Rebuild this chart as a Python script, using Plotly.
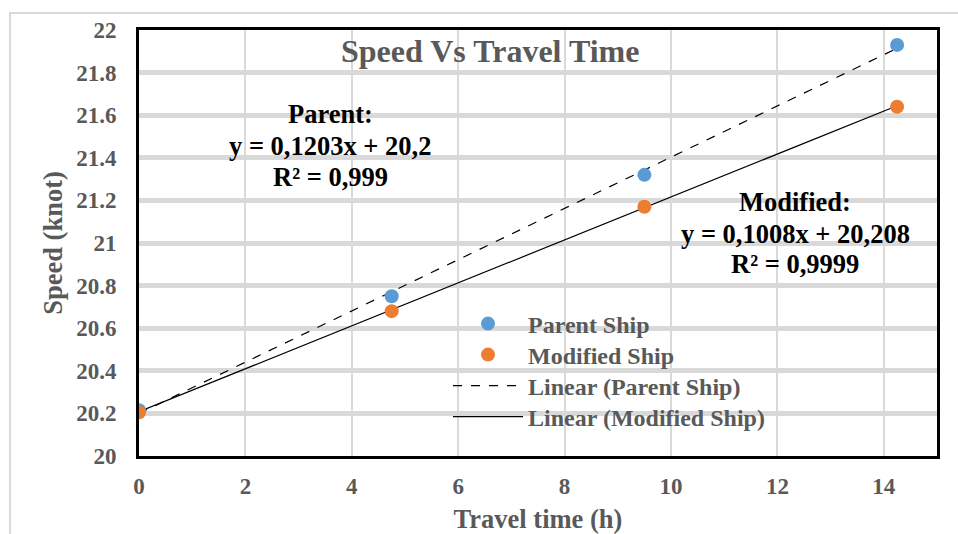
import plotly.graph_objects as go

# Data
travel_time = [0, 4.75, 9.5, 14.25]
parent_speed = [20.215, 20.75, 21.32, 21.93]
modified_speed = [20.205, 20.68, 21.17, 21.64]
parent_fit = (0.1203, 20.2)
modified_fit = (0.1008, 20.208)
x_ticks = [0, 2, 4, 6, 8, 10, 12, 14]
y_ticks = [20, 20.2, 20.4, 20.6, 20.8, 21, 21.2, 21.4, 21.6, 21.8, 22]
parent_label = ["Parent:", "y = 0,1203x + 20,2", "R² = 0,999"]
modified_label = ["Modified:", "y = 0,1008x + 20,208", "R² = 0,9999"]

FONT = "Liberation Serif"
GRAY = "#595959"

fit_x = [travel_time[0], travel_time[-1]]
parent_line = [parent_fit[0] * x + parent_fit[1] for x in fit_x]
modified_line = [modified_fit[0] * x + modified_fit[1] for x in fit_x]

fig = go.Figure()
fig.add_trace(go.Scatter(x=fit_x, y=parent_line, mode="lines", name="Linear (Parent Ship)",
                         line=dict(color="black", width=1.2, dash="dash"), legend="legend3"))
fig.add_trace(go.Scatter(x=fit_x, y=modified_line, mode="lines", name="Linear (Modified Ship)",
                         line=dict(color="black", width=1.2), legend="legend4"))
fig.add_trace(go.Scatter(x=travel_time, y=parent_speed, mode="markers", name="Parent Ship",
                         marker=dict(color="#5b9bd5", size=14), legend="legend"))
fig.add_trace(go.Scatter(x=travel_time, y=modified_speed, mode="markers", name="Modified Ship",
                         marker=dict(color="#ed7d31", size=14), legend="legend2"))

L, R, T, B = 139, 21, 30, 78
W, H = 958, 534
pw, ph = W - L - R, H - T - B

def px(xp):
    return (xp - L) / pw

def py(yp):
    return (H - B - yp) / ph

def legend_at(yc):
    return dict(x=px(448), y=py(yc), xanchor="left", yanchor="middle",
                bgcolor="rgba(0,0,0,0)",
                font=dict(size=24, color=GRAY, family=FONT, weight="bold"),
                itemwidth=70)

annotations = [
    dict(text="<b>Speed Vs Travel Time</b>", xref="paper", yref="paper",
         x=px(490), y=py(51), xanchor="center", yanchor="middle", showarrow=False,
         font=dict(size=32, color=GRAY, family=FONT)),
]
for txt, yy in zip(parent_label, [114, 146, 177]):
    annotations.append(dict(text=f"<b>{txt}</b>", xref="paper", yref="paper", x=px(330), y=py(yy),
                            xanchor="center", yanchor="middle", showarrow=False,
                            font=dict(size=26.5, color="black", family=FONT)))
for txt, yy in zip(modified_label, [202, 234, 264]):
    annotations.append(dict(text=f"<b>{txt}</b>", xref="paper", yref="paper", x=px(795), y=py(yy),
                            xanchor="center", yanchor="middle", showarrow=False,
                            font=dict(size=26.5, color="black", family=FONT)))

fig.update_layout(
    width=W, height=H,
    margin=dict(l=L, r=R, t=T, b=B),
    paper_bgcolor="white", plot_bgcolor="white",
    font=dict(family=FONT, color=GRAY),
    showlegend=True,
    legend=legend_at(324),
    legend2=legend_at(355),
    legend3=legend_at(386),
    legend4=legend_at(417),
    xaxis=dict(range=[0, 15], tickvals=x_ticks, showgrid=True, gridcolor="#d9d9d9", gridwidth=1.5,
               zeroline=False, showline=True, linecolor="black", linewidth=3, mirror=True,
               ticks="outside", ticklen=7, tickcolor="rgba(0,0,0,0)", automargin=False,
               tickfont=dict(size=23, family=FONT, color=GRAY, weight="bold"),
               title=dict(text="<b>Travel time (h)</b>", font=dict(size=26.5, color=GRAY, family=FONT),
                          standoff=14)),
    yaxis=dict(range=[20, 22], tickvals=y_ticks, ticktext=[f"{v:g}" for v in y_ticks],
               showgrid=True, gridcolor="#d9d9d9", gridwidth=5,
               zeroline=False, showline=True, linecolor="black", linewidth=3, mirror=True,
               ticks="outside", ticklen=15, tickcolor="rgba(0,0,0,0)", automargin=False,
               tickfont=dict(size=23, family=FONT, color=GRAY, weight="bold"),
               title=dict(text="<b>Speed (knot)</b>", font=dict(size=26.5, color=GRAY, family=FONT),
                          standoff=6)),
    shapes=[dict(type="rect", xref="paper", yref="paper",
                 x0=px(10), x1=px(975), y0=py(550), y1=py(13),
                 line=dict(color="#d9d9d9", width=2), layer="below")],
    annotations=annotations,
)

fig.write_html("out.html")
